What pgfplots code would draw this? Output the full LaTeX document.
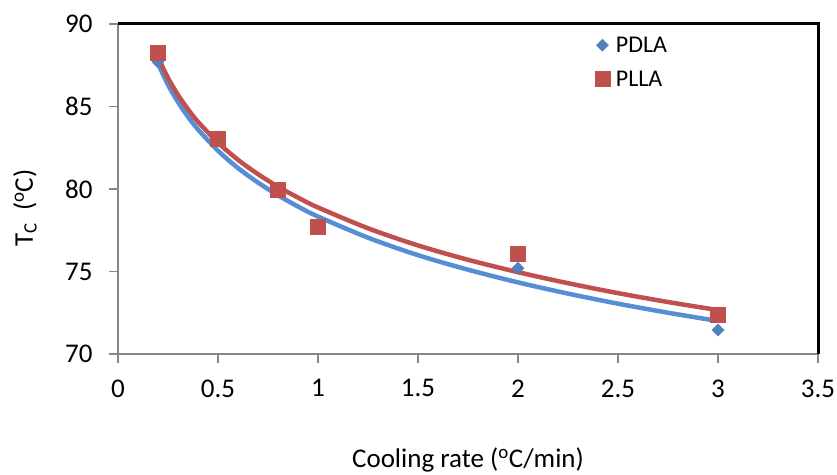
\documentclass[border=0pt]{standalone}
\usepackage{pgfplots}
\pgfplotsset{compat=1.18}
\usepackage{fontspec}
\setmainfont{Carlito}
\definecolor{cred}{HTML}{C0504D}
\definecolor{cblue}{HTML}{4F81BD}
\definecolor{cblueline}{HTML}{558ED5}
\definecolor{cgray}{HTML}{868686}
\begin{document}
\begin{tikzpicture}[x=1pt,y=1pt]
\useasboundingbox (0,0) rectangle (837,474);
\begin{axis}[
  at={(118pt,120pt)}, anchor=south west,
  scale only axis, width=700pt, height=330pt,
  xmin=0, xmax=3.5, ymin=70, ymax=90,
  xtick={0,0.5,...,3.5}, ytick={70,75,...,90},
  xticklabels={0,0.5,1,1.5,2,2.5,3,3.5},
  axis x line*=bottom, axis y line*=left,
  axis line style={cgray, line width=1.5pt, -},
  tick style={cgray, line width=1.5pt},
  tick align=outside, major tick length=9pt,
  font=\fontsize{27}{32}\selectfont,
  /pgf/number format/assume math mode=true,
  yticklabel style={xshift=-13pt},
  xticklabel style={yshift=-13pt},
  xlabel={Cooling rate (\textsuperscript{o}C/min)},
  ylabel={T\textsubscript{C}\ \ (\textsuperscript{o}C)},
  xlabel style={at={(axis description cs:0.5,-0.321)}, anchor=center},
  ylabel style={at={(axis description cs:-0.133,0.442)}, anchor=center, rotate=0},
  legend style={draw=none, fill=none, at={(axis description cs:0.681,0.968)}, anchor=north west, font=\fontsize{24}{28}\selectfont, row sep=13pt, inner sep=0pt, nodes={inner xsep=6pt}},
  legend cell align=left,
  clip=false,
]
\addplot[only marks, mark=square*, mark size=4.3pt, color=cblue, mark options={fill=cblue, draw=cblue, rotate=45}]
  coordinates {(0.2,87.7) (0.5,83.0) (0.8,79.9) (1,77.7) (2,75.2) (3,71.45)};
\addlegendentry{PDLA}
\addplot[only marks, mark=square*, mark size=7.5pt, color=cred, mark options={fill=cred, draw=cred}]
  coordinates {(0.2,88.24) (0.5,83.03) (0.8,79.94) (1,77.7) (2,76.1) (3,72.4)};
\addlegendentry{PLLA}
\addplot[cblueline, line width=4.5pt, smooth, forget plot]
  coordinates {(0.2,87.60) (0.25,86.32) (0.3,85.27) (0.35,84.38) (0.4,83.61) (0.5,82.32) (0.6,81.27) (0.7,80.39) (0.8,79.62) (0.9,78.94) (1,78.33) (1.25,77.05) (1.5,75.99) (1.75,75.11) (2,74.34) (2.25,73.66) (2.5,73.05) (2.75,72.50) (3,72.00)};
\addplot[cred, line width=4.5pt, smooth, forget plot]
  coordinates {(0.2,87.99) (0.25,86.73) (0.3,85.70) (0.35,84.83) (0.4,84.07) (0.5,82.81) (0.6,81.77) (0.7,80.90) (0.8,80.14) (0.9,79.48) (1,78.88) (1.25,77.62) (1.5,76.58) (1.75,75.71) (2,74.96) (2.25,74.29) (2.5,73.69) (2.75,73.15) (3,72.66)};
\draw[black, line width=3pt] (rel axis cs:0,1) -- (rel axis cs:1,1) -- (rel axis cs:1,0);
\end{axis}
\end{tikzpicture}
\end{document}
